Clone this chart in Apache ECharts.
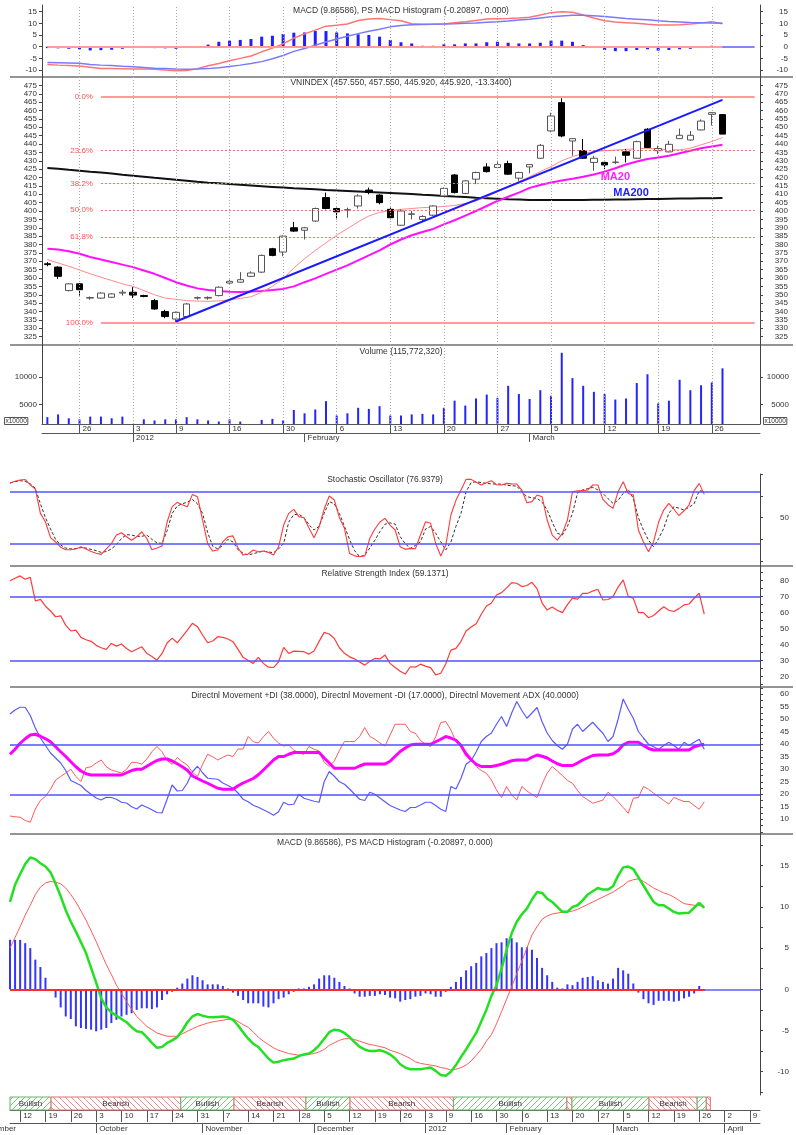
<!DOCTYPE html>
<html>
<head>
<meta charset="utf-8">
<script src="https://cdn.jsdelivr.net/npm/echarts@6/dist/echarts.min.js"></script>
<style>
  html, body { margin: 0; padding: 0; background: #fff; }
  #chart { width: 796px; height: 1135px; }
</style>
</head>
<body>
<div id="chart"></div>
<script>
// ---- calendar ----
const holidays = ['2012-01-02', '2012-01-23', '2012-01-24', '2012-01-25', '2012-01-26', '2012-01-27'];
const monthNames = ['2012', 'February', 'March', 'April', 'May', 'June', 'July', 'August', 'September', 'October', 'November', 'December'];

function tradingDays(from, to) {
  const out = [];
  const d = new Date(from + 'T00:00:00Z');
  const end = new Date(to + 'T00:00:00Z');
  while (d <= end) {
    const s = d.toISOString().slice(0, 10);
    const w = d.getUTCDay();
    if (w !== 0 && w !== 6 && holidays.indexOf(s) < 0) out.push(s);
    d.setUTCDate(d.getUTCDate() + 1);
  }
  return out;
}
// first trading day of each week -> day number
function weekLabels(dates) {
  return dates.map((s, i) => {
    const d = new Date(s + 'T00:00:00Z');
    if (i === 0) return d.getUTCDay() === 1 ? String(d.getUTCDate()) : '';
    const p = new Date(dates[i - 1] + 'T00:00:00Z');
    const newWeek = d.getUTCDay() <= p.getUTCDay() || (d - p) >= 7 * 864e5;
    return newWeek ? String(d.getUTCDate()) : '';
  });
}
// first trading day of each month -> month name
function monthLabels(dates) {
  return dates.map((s, i) => {
    if (i === 0) return '';
    return s.slice(5, 7) !== dates[i - 1].slice(5, 7) ? monthNames[+s.slice(5, 7) - 1] : '';
  });
}

const topDates = tradingDays('2011-12-21', '2012-03-30');
const bottomDates = tradingDays('2011-09-08', '2012-04-11');
const topDay = weekLabels(topDates);
const topMonth = monthLabels(topDates);
const bottomDay = weekLabels(bottomDates);
const bottomMonth = monthLabels(bottomDates);
const topWeekSlots = topDay.map((d, i) => (d ? i : -1)).filter(i => i >= 0);

// ---- top chart data (21 Dec 2011 - 27 Mar 2012) ----
// [open, close, low, high]
const vnindex = [
  [368.5, 368, 367, 369.5], [366.5, 361, 359.5, 367], [352.5, 356.5, 352, 357], [356.5, 353, 349.5, 357],
  [348, 348.3, 347, 349], [348, 351, 347.5, 351.5], [348.5, 350.5, 348, 351], [351, 351.5, 349.5, 353],
  [351.5, 349.8, 348, 354.5], [349.5, 349, 348.5, 350], [346.5, 341.5, 341, 347.5], [340, 337, 336, 341],
  [335.5, 339.5, 333.5, 340], [337, 344.5, 336, 345], [348, 348.3, 347, 349], [348, 348.4, 347, 349],
  [349.5, 354.5, 349, 355], [357, 358, 356.5, 359], [357.5, 359, 357, 363.5], [361, 363, 360.5, 364],
  [363.5, 373.5, 363, 374], [377.5, 373.5, 373, 378], [375.5, 385, 373, 385.5], [390, 388, 387.5, 393.5],
  [388.5, 390, 383, 390.5], [394, 401.5, 393.5, 402], [408, 401.5, 401, 411], [401.5, 399.5, 395, 402],
  [400.5, 400.8, 396, 402], [403, 409, 401.5, 410], [412.5, 411, 410, 414], [409.5, 405, 404, 410],
  [401, 396, 395, 402], [391.5, 400, 391, 401], [398, 398.3, 395, 400], [395, 396.7, 394, 397.5],
  [397.5, 403, 397, 403.5], [409, 413.5, 408.5, 414], [421.5, 411, 410.5, 422], [410.5, 418, 410, 418.5],
  [419, 423, 416, 423.5], [426.3, 423.5, 423, 428.5], [426, 427.7, 425.5, 430], [428.3, 422, 421.5, 430],
  [419.6, 423, 418, 423.5], [426.3, 427.7, 422.5, 428], [431.5, 439.2, 431, 440], [447.8, 456.7, 447, 458.7],
  [464.7, 444.8, 444, 467.3], [441.8, 443.2, 433, 443.5], [436, 431.5, 431, 443], [429, 431.5, 424, 433],
  [429, 427.5, 425, 430], [429, 429.2, 428, 432.5], [435.3, 433.3, 429, 437], [431.5, 441.4, 431, 442],
  [448.8, 437.9, 437.5, 449.5], [436, 437.3, 434, 439], [435.3, 439.8, 435, 441.8], [443.2, 445.2, 443, 449.2],
  [442.4, 445.2, 442, 447.8], [448.4, 453.7, 448, 454.7], [457.7, 458.7, 451, 459], [457.55, 445.92, 445.92, 457.55]
];
const ma10 = [
  371, 369, 367, 364.8, 362.5, 360.5, 358.5, 356.5, 355, 352.5,
  350, 348, 347.3, 346.5, 346.2, 346.1, 346.3, 347, 347.8, 348.8,
  351.5, 355, 359.5, 366, 371.5, 376.5, 381, 385.5, 389.5, 393.5,
  397, 399.2, 400.2, 401, 401.5, 402, 402.3, 402.7, 403.3, 404.5,
  406, 408.5, 411.5, 414.5, 417.5, 420.5, 423.5, 426.5, 430, 432.5,
  434.3, 435.5, 436, 436.4, 436.8, 437.2, 437.5, 437, 436.6, 436.5,
  437.5, 439.5, 441.5, 443.8
];
const ma20 = [
  377.5, 377, 376, 374.5, 372.5, 371, 369.5, 368, 366.5, 364.5,
  362.5, 360, 357.5, 355.5, 353.8, 352.8, 352.2, 351.8, 351.7, 351.9,
  352.3, 352.8, 353.5, 355, 357.5, 359.8, 362.5, 365, 367.5, 370.5,
  373.5, 376.5, 380, 383, 385.5, 387.5, 389.3, 392, 394.5, 397.2,
  400, 403, 406, 408.5, 411, 413.8, 415.5, 417, 418.2, 419.3,
  420.5, 421.8, 423.5, 425.5, 427.8, 429.5, 431, 432, 433, 434.5,
  436, 437.5, 438.5, 439.5
];
const ma200 = [
  425.7, 425.2, 424.6, 424.1, 423.5, 423.0, 422.4, 421.7, 421.1, 420.5,
  419.8, 419.2, 418.6, 418.0, 417.4, 416.9, 416.5, 416.1, 415.6, 415.2,
  414.8, 414.4, 414.0, 413.6, 413.3, 413.0, 412.6, 412.3, 412.0, 411.7,
  411.3, 411.0, 410.7, 410.4, 410.1, 409.7, 409.4, 409.0, 408.6, 408.3,
  407.9, 407.6, 407.3, 407.0, 406.8, 406.6, 406.5, 406.5, 406.5, 406.5,
  406.6, 406.7, 406.7, 406.8, 406.9, 407.0, 407.1, 407.2, 407.3, 407.4,
  407.5, 407.6, 407.6, 407.7
];
const trendLine = [[12, 334], [63, 466.3]];
const fibLevels = [468, 436.1, 416.4, 400.5, 384.6, 333];
const fibNames = ['0.0%', '23.6%', '38.2%', '50.0%', '61.8%', '100.0%'];
const volume = [
  2700, 3200, 2500, 2300, 2800, 2800, 2500, 2800, 1200, 2300,
  2100, 2300, 2300, 2700, 2300, 2100, 1900, 2300, 1900, 1200,
  2200, 2400, 2100, 4000, 3400, 4100, 5600, 3000, 3400, 4400,
  4200, 4700, 3000, 3000, 3200, 3300, 3200, 4400, 5700, 4800,
  6100, 6800, 6200, 8400, 6900, 6000, 7600, 6600, 14400, 9800,
  8400, 7300, 6900, 5900, 6100, 8900, 10500, 5200, 5700, 9500,
  7600, 8500, 9000, 11577
];
const macdTop = [
  -7.6, -7.9, -8.1, -8.3, -8.8, -9.3, -9.4, -9.5, -9.6, -9.6,
  -9.7, -10.0, -10.3, -10.2, -9.4, -8.2, -7.2, -6.0, -5.0, -4.0,
  -2.2, -0.6, 1.2, 3.7, 5.5, 7.1, 8.8, 9.2, 9.7, 11.2,
  11.9, 12.1, 11.6, 11.1, 9.8, 9.6, 9.6, 9.7, 10.3, 10.7,
  11.2, 11.9, 12.0, 12.1, 12.3, 12.6, 13.6, 14.6, 15.0, 14.8,
  13.6, 12.3, 11.1, 10.6, 10.3, 10.0, 9.6, 9.3, 9.3, 9.4,
  9.7, 10.2, 10.7, 9.87
];
const signalTop = [
  -6.8, -6.9, -7.0, -7.1, -7.6, -7.9, -8.1, -8.4, -8.6, -8.9,
  -9.2, -9.4, -9.6, -9.7, -9.6, -9.4, -9.0, -8.5, -7.9, -7.2,
  -6.4, -5.2, -3.8, -2.0, -0.8, 0.6, 2.0, 3.3, 4.5, 5.6,
  6.6, 7.5, 8.5, 9.1, 9.4, 9.5, 9.6, 9.7, 9.8, 10.0,
  10.2, 10.5, 10.7, 11.0, 11.4, 11.8, 12.3, 12.8, 13.2, 13.5,
  13.5, 13.3, 12.9, 12.5, 12.1, 11.8, 11.5, 11.1, 10.8, 10.6,
  10.4, 10.3, 10.2, 10.08
];
const histTop = [
  -0.6, -0.7, -0.9, -1.1, -1.6, -1.5, -1.3, -0.9, -0.6, -0.5,
  -0.6, -0.7, -0.9, -0.3, 0.3, 0.9, 2.1, 2.6, 2.9, 3.3,
  4.3, 4.7, 5.4, 6.0, 6.1, 6.7, 6.7, 6.1, 5.7, 5.3,
  5.0, 4.3, 2.9, 1.9, 1.4, 0.4, 0.4, 1.0, 1.0, 1.4,
  1.4, 1.9, 2.1, 1.7, 1.4, 1.4, 1.7, 2.6, 2.6, 2.1,
  0.7, -0.3, -1.4, -1.9, -1.9, -1.4, -1.1, -1.7, -1.4, -1.1,
  -0.9, -0.4, 0.4, -0.2
];

// ---- bottom chart data (8 Sep 2011 - 27 Mar 2012) ----
const stochK = [
  90, 92, 93.5, 94, 88, 83, 55, 45, 27, 22,
  16, 13, 13, 14, 16.5, 14, 11, 9, 7.7, 14,
  20, 30, 32.7, 28, 24, 28, 33.8, 26, 13, 15,
  17.3, 45, 62.7, 67.7, 65, 62.7, 76.9, 74.2, 47.3, 20,
  11.5, 12.7, 22, 28, 29, 15, 6.9, 8.1, 12.7, 10.8,
  11.5, 10, 6.9, 16.5, 41.5, 55, 59.6, 51.2, 50, 38,
  26.9, 39.6, 60, 75, 70.4, 50, 37.7, 8.8, 6, 5,
  5.8, 26.2, 37, 45, 49.2, 41.5, 35.8, 16.5, 13.5, 14.6,
  14.2, 30, 45.4, 43.5, 20.4, 5.8, 18.5, 53.1, 70, 81.9,
  94.2, 94.2, 91, 87.7, 90.4, 92.7, 88, 87.7, 89.6, 89,
  88.8, 81.9, 67.3, 68.5, 76.2, 74.2, 47.3, 30, 24.2, 31.9,
  47.3, 80, 81, 81.2, 81.9, 87.7, 87.7, 71.2, 65, 60.8,
  80, 91.5, 78, 76.2, 35.8, 22, 10.8, 22.3, 45, 58.8,
  66.5, 60, 52.3, 58, 64.6, 81.2, 89.6, 76.9
];
const stochD = [
  90, 91.5, 92.7, 92, 89, 84, 66, 50, 37, 25,
  18.5, 15, 14, 14.5, 15.5, 15, 13.5, 12, 10, 11,
  14, 19, 26, 30.5, 30, 28.5, 28.5, 30, 25, 21,
  20.4, 35, 55, 63.5, 66, 68, 71, 66, 55, 33,
  17, 14, 18, 25, 22, 13, 9, 7, 8.5, 10,
  11.5, 10.5, 9.6, 14, 20.4, 45, 53.5, 54, 50, 42,
  35.8, 40, 55, 68.5, 66, 55, 40, 25, 12, 5,
  6.9, 15, 24, 34, 42.5, 44, 42.7, 28, 20, 14.6,
  18, 22.3, 37, 40, 32, 22.3, 12.7, 22, 40, 55,
  80, 90.5, 91.5, 90.5, 89.6, 89, 88.8, 88.8, 87.5, 86.8,
  86.5, 80, 74.2, 73, 72.3, 68, 58.8, 45, 32, 30,
  40, 55, 78.8, 82, 83.5, 85, 82, 78.1, 72, 66.5,
  70, 78, 82.7, 72.3, 50, 35.8, 24, 16.5, 26, 37.7,
  55, 62.7, 61, 58.8, 62, 66, 81.2, 80
];
const rsi = [
  80, 81.5, 83, 80.9, 82.1, 67.3, 68.3, 64, 61, 57.4,
  58, 52, 48.5, 49, 44.5, 43, 42, 39.5, 38, 37,
  40.7, 39, 40.3, 37.5, 35.5, 37, 38.6, 34.5, 32.5, 30.2,
  34.4, 41, 44, 41.1, 45, 49, 53.3, 51.2, 46, 41.1,
  42.2, 44.9, 44.5, 43.5, 41.8, 37, 32, 30, 28.2, 31.9,
  28.2, 25.8, 25.6, 29.2, 38.2, 34.4, 35.9, 35.7, 35.5, 34,
  36, 42, 47.6, 46.6, 43.8, 38, 34.5, 32.3, 31, 29,
  27.1, 29.5, 31.3, 31, 33.4, 28.2, 25.6, 23.3, 21.5, 26.1,
  25.8, 27.7, 26.5, 25.5, 21, 22, 28, 36.5, 37.6, 42,
  48.5, 51, 53, 59, 64, 66, 71, 72.5, 75.5, 78.8,
  78.4, 76.3, 77, 79, 75, 66, 61.6, 63.5, 61.5, 60,
  65, 69, 68.5, 72, 72.1, 73.5, 74.6, 67.9, 68.2, 70,
  76, 80.5, 70.2, 69, 60, 60, 56.8, 58.2, 61, 63.7,
  61.5, 60.7, 62.5, 64.8, 65.4, 69, 72.1, 59.1
];
const plusDI = [
  52.1, 53.7, 54.8, 54.8, 51.5, 46.5, 42.5, 39.5, 36.5, 34.5,
  32.5, 29.5, 25.5, 24.5, 23.5, 21.5, 20, 18.5, 17.7, 18.8,
  18.7, 18, 16.8, 16.5, 15, 14.1, 15.7, 14.8, 13.8, 12.7,
  12.5, 18, 23.7, 21.3, 21.5, 24.5, 29, 31.2, 28.6, 26.4,
  26.2, 26, 24.5, 23.5, 22.4, 20.5, 18, 17, 15.6, 14.8,
  13.8, 12.8, 11.6, 13, 16.8, 15.8, 16, 20, 18.4, 17.8,
  17.2, 16.8, 25, 29.1, 27.2, 25, 24, 22.1, 20, 18,
  17.5, 20.8, 20, 18.5, 17, 15.5, 14.6, 13.7, 13.1, 14.7,
  14.7, 15.7, 16.8, 16.8, 15.5, 14, 13.1, 23.1, 22.1, 26.4,
  32, 33.5, 37, 41.1, 43.1, 44.5, 48, 51.1, 47.1, 52.5,
  57.1, 53.5, 50.4, 52.5, 54.7, 49, 44.5, 41.5, 39.5, 38,
  40, 46.1, 48, 45.1, 47, 48.8, 46.5, 44.4, 41.1, 43.1,
  50, 58.1, 54, 50.4, 45.1, 42.5, 40, 39, 38, 39.5,
  40.8, 39.5, 38, 40.8, 39.5, 40.8, 42, 38
];
const minusDI = [
  11.3, 11, 10.8, 9.5, 8.8, 14.1, 17.5, 19.1, 22, 25.7,
  27.1, 28.5, 30, 27.1, 25.1, 30.6, 31, 32.5, 33.7, 31,
  29.7, 29.1, 28.5, 30, 32.8, 32.7, 32, 34.1, 37, 39.1,
  37, 33.5, 32, 34.7, 33, 31.7, 28.8, 27.1, 32, 36,
  35, 33.7, 34.8, 35.7, 35.1, 38.1, 38.1, 43.1, 41, 40.5,
  43, 45.1, 42.4, 40.5, 39.3, 39.7, 37.7, 36.5, 36, 39.1,
  38, 37.3, 32.8, 31.1, 33.3, 37.5, 41.1, 41.1, 41.1, 43.1,
  46.7, 43.1, 42, 40.5, 39.3, 43.7, 48, 48, 48, 45.1,
  44.4, 41.5, 40, 39.1, 43, 48.7, 49.1, 45.7, 41.1, 39.7,
  37, 34.4, 31.1, 29.5, 28.4, 25.7, 21.7, 18.7, 23.1, 19.7,
  17.7, 23.1, 21.3, 20, 18.7, 24, 28.4, 31.1, 29.3, 27.5,
  25.5, 24.4, 21.5, 19.1, 17.8, 16.4, 17, 17.7, 20.8, 19.1,
  17, 14.7, 12.4, 18.4, 18.7, 23.1, 22, 20.4, 19, 17.5,
  16.1, 18.7, 17.9, 17.1, 17.1, 15.5, 14, 17
];
const adx = [
  36, 38, 40.4, 42.2, 43.7, 44, 43.2, 42.2, 41, 39,
  37, 35.1, 33, 31, 29.3, 28.2, 27.7, 27.7, 27.7, 27.7,
  27.7, 27.7, 27.7, 28.6, 29.5, 30, 30, 31.2, 32.4, 33.5,
  34.1, 34.1, 33.3, 32.2, 31, 29.6, 27.3, 26.3, 25.3, 24.4,
  23.4, 22.4, 22, 22, 22, 23.4, 24.5, 25.4, 26.3, 27.8,
  29.7, 31.7, 33.7, 35.1, 35.1, 36, 36.7, 36.7, 36.7, 36.7,
  36.7, 36.7, 34.5, 32.5, 30.4, 30.4, 30.4, 30.4, 30.4, 31.3,
  32.1, 32.1, 32.1, 32.1, 32.1, 33.2, 35.2, 37.1, 38.5, 39.7,
  40, 40, 40, 40, 41, 42, 43.1, 42.5, 41.6, 39.5,
  36, 33.8, 32, 31.1, 31.1, 31.1, 31.5, 32, 32.7, 33.4,
  33.7, 33.7, 33.7, 34.8, 35.7, 35.2, 34.5, 33.3, 32.2, 31.5,
  31.5, 31.5, 32.5, 33.7, 34.6, 35.5, 35.7, 35.7, 35.7, 36.2,
  37.5, 39.8, 40.8, 40.8, 40.8, 39.5, 38.3, 37.7, 37.7, 37.7,
  37.7, 37.7, 37.7, 37.7, 37.7, 39, 39.6, 40
];
const macd = [
  10.6, 12.7, 14.0, 15.2, 16.0, 15.8, 15.3, 14.9, 14.2, 12.8,
  11.3, 9.6, 8.2, 7.0, 5.7, 4.4, 2.6, 0.8, -1.1, -2.2,
  -2.8, -3.2, -3.6, -4.0, -4.6, -5.1, -5.2, -5.8, -6.5, -7.1,
  -7.0, -6.5, -6.2, -5.8, -5.0, -4.0, -3.3, -3.0, -3.2, -3.35,
  -3.4, -3.35, -3.3, -3.4, -3.7, -4.4, -5.2, -6.0, -6.6, -7.0,
  -7.7, -8.4, -8.9, -8.8, -8.6, -8.5, -8.4, -8.1, -7.9, -7.8,
  -7.4, -6.8, -6.0, -5.2, -4.9, -5.0, -5.3, -5.8, -6.4, -7.0,
  -7.3, -7.5, -7.5, -7.4, -7.6, -7.9, -8.4, -9.1, -9.5, -9.7,
  -9.7, -9.7, -9.6, -9.5, -9.9, -10.4, -10.5, -10.0, -9.2, -8.2,
  -7.3, -6.3, -5.3, -3.9, -2.5, -0.8, 0.5, 2.5, 4.8, 6.8,
  8.2, 9.1, 9.8, 10.9, 11.8, 11.7, 11.0, 10.6, 10.0, 9.4,
  9.4, 10.0, 10.2, 10.8, 11.5, 11.9, 12.3, 12.1, 12.1, 12.5,
  13.8, 14.8, 14.9, 14.6, 13.6, 12.6, 11.6, 10.6, 10.2, 10.2,
  9.8, 9.4, 9.2, 9.25, 9.3, 9.9, 10.5, 9.87
];
const signal = [
  5.0, 6.3, 7.6, 9.0, 10.2, 11.5, 12.4, 12.9, 13.1, 13.0,
  12.8, 12.3, 11.5, 10.6, 9.5, 8.4, 7.1, 5.8, 4.4, 3.0,
  1.8, 0.5, -0.5, -1.5, -2.4, -3.3, -3.9, -4.5, -4.9, -5.3,
  -5.5, -5.7, -5.7, -5.7, -5.4, -5.1, -4.8, -4.5, -4.3, -4.1,
  -3.95, -3.85, -3.75, -3.65, -3.6, -3.9, -4.3, -4.6, -5.2, -5.8,
  -6.3, -6.7, -7.1, -7.4, -7.6, -7.8, -7.9, -8.0, -8.0, -7.9,
  -7.8, -7.6, -7.3, -6.8, -6.5, -6.2, -6.0, -6.0, -6.1, -6.3,
  -6.5, -6.7, -6.8, -6.95, -7.1, -7.4, -7.6, -7.8, -8.1, -8.4,
  -8.8, -9.0, -9.1, -9.2, -9.3, -9.5, -9.6, -9.8, -9.7, -9.5,
  -9.2, -8.7, -8.0, -7.3, -6.3, -5.5, -4.2, -2.7, -1.2, 0.3,
  1.9, 3.4, 5.0, 6.6, 7.6, 8.5, 8.9, 9.15, 9.25, 9.35,
  9.4, 9.5, 9.7, 10.0, 10.3, 10.6, 10.9, 11.2, 11.5, 11.8,
  12.2, 12.6, 13.1, 13.3, 13.4, 13.1, 12.7, 12.3, 12.0, 11.7,
  11.5, 11.2, 10.8, 10.4, 10.3, 10.2, 10.15, 10.08
];
const hist = [
  6.0, 6.0, 6.0, 5.6, 5.0, 3.6, 2.7, 1.4, -0.2, -1.0,
  -2.2, -3.3, -3.6, -4.5, -4.7, -4.8, -4.9, -5.1, -4.9, -4.7,
  -4.1, -3.7, -3.3, -3.1, -2.9, -2.5, -2.3, -2.3, -2.4, -2.2,
  -1.3, -0.6, -0.3, 0.2, 0.7, 1.3, 1.7, 1.5, 1.1, 0.6,
  0.6, 0.6, 0.4, 0.1, -0.4, -0.8, -1.3, -1.7, -1.7, -1.7,
  -2.1, -2.2, -1.7, -1.2, -1.0, -0.6, -0.3, 0.1, 0.1, 0.3,
  0.6, 1.3, 1.7, 1.7, 1.4, 0.9, 0.4, 0.1, -0.5, -0.9,
  -0.9, -0.8, -0.8, -0.6, -0.7, -1.0, -1.1, -1.5, -1.3, -1.2,
  -0.9, -0.8, -0.5, -0.6, -0.9, -0.9, -0.3, 0.3, 0.9, 1.5,
  2.3, 2.8, 3.2, 4.0, 4.4, 5.0, 5.6, 5.7, 6.2, 6.2,
  5.7, 5.1, 5.1, 4.8, 3.8, 2.6, 1.7, 0.9, 0.2, 0.1,
  0.6, 0.5, 0.9, 1.4, 1.5, 1.6, 1.1, 0.9, 0.7, 1.3,
  2.6, 2.3, 1.9, 0.7, -0.4, -1.2, -1.7, -1.9, -1.4, -1.4,
  -1.4, -1.5, -1.4, -1.1, -0.9, -0.5, 0.4, -0.2
];
// [from slot, to slot, state]
const bandSegments = [
  [0, 8.1, 'Bullish'], [8.1, 33.7, 'Bearish'], [33.7, 44.2, 'Bullish'], [44.2, 58.4, 'Bearish'],
  [58.4, 67.1, 'Bullish'], [67.1, 87.5, 'Bearish'], [87.5, 109.9, 'Bullish'], [109.9, 110.9, 'Bearish'],
  [110.9, 126.1, 'Bullish'], [126.1, 135.6, 'Bearish'], [135.6, 137.4, 'Bullish'], [137.4, 138.2, 'Bearish']
];

// axis tick values
const macdTopLabels = [-10, -5, 0, 5, 10, 15];
const volumeLabels = [5000, 10000];
const stochLabels = [50];
const stochTicks = [0, 25, 50, 75, 100];
const rsiLabels = [20, 30, 40, 50, 60, 70, 80];
const rsiTicks = [15, 20, 25, 30, 35, 40, 45, 50, 55, 60, 65, 70, 75, 80, 85];
const dmiLabels = [10, 15, 20, 25, 30, 35, 40, 45, 50, 55, 60];
const dmiTicks = [5, 7.5, 10, 12.5, 15, 17.5, 20, 22.5, 25, 27.5, 30, 32.5, 35, 37.5, 40, 42.5, 45, 47.5, 50, 52.5, 55, 57.5, 60, 62.5];
const macdLabels = [-10, -5, 0, 5, 10, 15];
const macdTicks = [-12.5, -10, -7.5, -5, -2.5, 0, 2.5, 5, 7.5, 10, 12.5, 15, 17.5];

// ---- styling helpers ----
const font = '"Liberation Sans", Arial, sans-serif';
const ink = '#333';

function hatch(color, forward) {
  const c = document.createElement('canvas');
  c.width = 6; c.height = 6;
  const g = c.getContext('2d');
  g.fillStyle = '#fff';
  g.fillRect(0, 0, 6, 6);
  g.strokeStyle = color;
  g.lineWidth = 1;
  g.beginPath();
  if (forward) {
    g.moveTo(0, 6); g.lineTo(6, 0);
    g.moveTo(-1, 1); g.lineTo(1, -1);
    g.moveTo(5, 7); g.lineTo(7, 5);
  } else {
    g.moveTo(0, 0); g.lineTo(6, 6);
    g.moveTo(-1, 5); g.lineTo(1, 7);
    g.moveTo(5, -1); g.lineTo(7, 1);
  }
  g.stroke();
  return { image: c, repeat: 'repeat' };
}
const bullFill = hatch('#7cc47c', true);
const bearFill = hatch('#f08a8a', false);

// dotted weekly grid lines, drawn at candle centres
const weekGrid = {
  silent: true, symbol: 'none', animation: false, label: { show: false },
  lineStyle: { color: '#a8a8a8', type: [1, 2], width: 1 },
  data: topWeekSlots.map(i => ({ xAxis: i }))
};

function topX(gridIndex) {
  return {
    type: 'category', gridIndex, data: topDates, boundaryGap: true,
    axisLine: { show: false }, axisTick: { show: false }, axisLabel: { show: false }, splitLine: { show: false }
  };
}
function bottomX(gridIndex) {
  return { type: 'category', gridIndex, data: bottomDates, boundaryGap: false, show: false };
}
function yAxis(gridIndex, position, min, max, labels, ticks, margin, extra) {
  return Object.assign({
    type: 'value', gridIndex, position, min, max,
    axisLine: { show: true, lineStyle: { color: '#444', width: 1 } },
    axisTick: { show: true, length: 3, customValues: ticks, lineStyle: { color: '#444' } },
    axisLabel: {
      customValues: labels, fontSize: 8, color: ink, fontFamily: font, margin,
      align: 'right', formatter: (v) => String(v)
    },
    splitLine: { show: false }
  }, extra || {});
}
function line(x, y, data, color, width, extra) {
  return Object.assign({
    type: 'line', xAxisIndex: x, yAxisIndex: y, data, symbol: 'none',
    lineStyle: { color, width }, itemStyle: { color }, silent: true, z: 3
  }, extra || {});
}
function levels(values, color) {
  return {
    silent: true, symbol: 'none', animation: false, label: { show: false },
    lineStyle: { color, width: 1.5, type: 'solid' },
    data: values.map(v => ({ yAxis: v }))
  };
}
function zeroLine(lastData, lastSlot, dataColor) {
  return {
    silent: true, symbol: 'none', animation: false, label: { show: false },
    data: [
      [{ coord: [0, 0], lineStyle: { color: dataColor, width: 2, type: 'solid' } }, { coord: [lastData, 0] }],
      [{ coord: [lastData, 0], lineStyle: { color: '#5b5bff', width: 1.5, type: 'solid' } }, { coord: [lastSlot, 0] }]
    ]
  };
}

const chart = echarts.init(document.getElementById('chart'), null, { renderer: 'canvas' });

const titleStyle = { fontSize: 8.5, fontWeight: 'normal', color: ink, fontFamily: font };
const titles = [
  ['MACD (9.86586), PS MACD Histogram (-0.20897, 0.000)', 401, 6],
  ['VNINDEX (457.550, 457.550, 445.920, 445.920, -13.3400)', 401, 78],
  ['Volume (115,772,320)', 401, 347],
  ['Stochastic Oscillator (76.9379)', 385, 475],
  ['Relative Strength Index (59.1371)', 385, 569],
  ['Directnl Movement +DI (38.0000), Directnl Movement -DI (17.0000), Directnl Movement ADX (40.0000)', 385, 691],
  ['MACD (9.86586), PS MACD Histogram (-0.20897, 0.000)', 385, 838]
].map(t => ({ text: t[0], left: t[1], top: t[2], textAlign: 'center', padding: 0, textStyle: titleStyle }));

const separators = [77, 345, 566, 687, 834].map(y => ({
  type: 'line', silent: true, shape: { x1: 10, y1: y, x2: 793, y2: y },
  style: { stroke: '#707070', lineWidth: 1.5 }
}));

const option = {
  animation: false,
  backgroundColor: '#fff',
  title: titles,
  graphic: separators.concat([
    { type: 'text', left: 4, top: 417, silent: true,
      style: { text: 'x10000', fontSize: 6.5, fill: ink, fontFamily: font, borderColor: '#555', borderWidth: 1, padding: [0, 1] } },
    { type: 'text', left: 763, top: 417, silent: true,
      style: { text: 'x10000', fontSize: 6.5, fill: ink, fontFamily: font, borderColor: '#555', borderWidth: 1, padding: [0, 1] } },
    { type: 'text', x: 16, y: 1125, silent: true,
      style: { text: 'September', align: 'right', fontSize: 8, fill: ink, fontFamily: font } }
  ]),
  grid: [
    { left: 42, width: 718, top: 5, height: 72 },
    { left: 42, width: 718, top: 77, height: 268 },
    { left: 42, width: 718, top: 345, height: 79 },
    { left: 10, width: 750, top: 474, height: 92 },
    { left: 10, width: 750, top: 566, height: 121 },
    { left: 10, width: 750, top: 687, height: 147 },
    { left: 10, width: 750, top: 834, height: 261 },
    { left: 10, width: 750, top: 1097, height: 13 }
  ],
  xAxis: [
    topX(0),
    topX(1),
    {
      type: 'category', gridIndex: 2, data: topDates, boundaryGap: true, position: 'bottom',
      axisLine: { show: true, lineStyle: { color: '#555' } },
      axisTick: { show: true, alignWithLabel: true, length: 9, interval: (i) => topDay[i] !== '', lineStyle: { color: '#555' } },
      axisLabel: { interval: (i) => topDay[i] !== '', formatter: (v, i) => topDay[i], align: 'left', margin: 1,
        padding: [0, 0, 0, 3], fontSize: 8, color: ink, fontFamily: font },
      splitLine: { show: false }
    },
    {
      type: 'category', gridIndex: 2, data: topDates, boundaryGap: true, position: 'bottom', offset: 9,
      axisLine: { show: true, lineStyle: { color: '#555' } },
      axisTick: { show: true, alignWithLabel: true, length: 9, interval: (i) => topMonth[i] !== '', lineStyle: { color: '#555' } },
      axisLabel: { interval: (i) => topMonth[i] !== '', formatter: (v, i) => topMonth[i], align: 'left', margin: 1,
        padding: [0, 0, 0, 3], fontSize: 8, color: ink, fontFamily: font },
      splitLine: { show: false }
    },
    bottomX(3), bottomX(4), bottomX(5), bottomX(6),
    { type: 'value', gridIndex: 7, min: 0, max: bottomDates.length - 1, show: false },
    {
      type: 'category', gridIndex: 7, data: bottomDates, boundaryGap: false, position: 'bottom',
      axisLine: { show: true, lineStyle: { color: '#555' } },
      axisTick: { show: true, length: 12, interval: (i) => bottomDay[i] !== '', lineStyle: { color: '#555' } },
      axisLabel: { interval: (i) => bottomDay[i] !== '', formatter: (v, i) => bottomDay[i], align: 'left', margin: 2,
        padding: [0, 0, 0, 3], fontSize: 8, color: ink, fontFamily: font },
      splitLine: { show: false }
    },
    {
      type: 'category', gridIndex: 7, data: bottomDates, boundaryGap: false, position: 'bottom', offset: 13,
      axisLine: { show: true, lineStyle: { color: '#555' } },
      axisTick: { show: true, length: 10, interval: (i) => bottomMonth[i] !== '', lineStyle: { color: '#555' } },
      axisLabel: { interval: (i) => bottomMonth[i] !== '', formatter: (v, i) => bottomMonth[i], align: 'left', margin: 2,
        padding: [0, 0, 0, 3], fontSize: 8, color: ink, fontFamily: font },
      splitLine: { show: false }
    }
  ],
  yAxis: [
    yAxis(0, 'left', -12.99, 17.87, macdTopLabels, macdTopLabels, 5),
    yAxis(0, 'right', -12.99, 17.87, macdTopLabels, macdTopLabels, 28),
    yAxis(1, 'left', 320, 480, null, null, 5, {
      interval: 5,
      axisTick: { show: true, length: 3, lineStyle: { color: '#444' } },
      axisLabel: { fontSize: 8, color: ink, fontFamily: font, margin: 5, align: 'right', showMinLabel: false, showMaxLabel: false }
    }),
    yAxis(1, 'right', 320, 480, null, null, 28, {
      interval: 5,
      axisTick: { show: true, length: 3, lineStyle: { color: '#444' } },
      axisLabel: { fontSize: 8, color: ink, fontFamily: font, margin: 28, align: 'right', showMinLabel: false, showMaxLabel: false }
    }),
    yAxis(2, 'left', 1455, 15818, volumeLabels, volumeLabels, 5),
    yAxis(2, 'right', 1455, 15818, volumeLabels, volumeLabels, 29),
    yAxis(3, 'right', -5.7, 100.4, stochLabels, stochTicks, 29),
    yAxis(4, 'right', 13.4, 89.2, rsiLabels, rsiTicks, 29),
    yAxis(5, 'right', 4.1, 62.9, dmiLabels, dmiTicks, 29),
    yAxis(6, 'right', -12.83, 18.85, macdLabels, macdTicks, 29),
    { type: 'value', gridIndex: 7, min: 0, max: 1, show: false }
  ],
  series: [
    // top MACD panel
    { type: 'bar', xAxisIndex: 0, yAxisIndex: 0, data: histTop, barWidth: 3, itemStyle: { color: '#1f1fff' }, silent: true,
      markLine: zeroLine(63, 66, '#ff9c9c') },
    line(0, 0, macdTop, '#ff7474', 1.5, { markLine: weekGrid }),
    line(0, 0, signalTop, '#7a7aff', 1.5),

    // price panel
    line(1, 2, ma200, '#111', 2, { markLine: weekGrid }),
    line(1, 2, ma20, '#ff10ff', 2, {
      markPoint: {
        silent: true, symbolSize: 0, animation: false,
        data: [
          { coord: [53, 420.2], label: { show: true, formatter: 'MA20', color: '#ff20ff', fontWeight: 'bold', fontSize: 11, fontFamily: font } },
          { coord: [54, 410.8], label: { show: true, formatter: 'MA200', color: '#2020ff', fontWeight: 'bold', fontSize: 11, fontFamily: font, offset: [5, 0] } }
        ]
      }
    }),
    line(1, 2, ma10, '#ff8a8a', 1),
    {
      type: 'candlestick', xAxisIndex: 1, yAxisIndex: 2, data: vnindex, barWidth: 7, silent: true, z: 4,
      itemStyle: { color: '#fff', color0: '#000', borderColor: '#555', borderColor0: '#000', borderWidth: 1 }
    },
    line(1, 2, trendLine, '#1a1aff', 2, {
      z: 5,
      markLine: {
        silent: true, symbol: 'none', animation: false,
        data: fibLevels.map((v, i) => {
          const solid = i === 0 || i === fibLevels.length - 1;
          return [
            { coord: [5, v], name: fibNames[i],
              lineStyle: solid ? { color: '#ff9a9a', width: 2, type: 'solid' } : { color: '#ff6a6a', width: 1, type: [2, 2] },
              label: { show: true, position: 'start', formatter: '{b}', color: '#ff5050', fontSize: 8, fontFamily: font, distance: 8 } },
            { coord: [66, v] }
          ];
        })
      }
    }),

    // volume panel
    { type: 'bar', xAxisIndex: 2, yAxisIndex: 4, data: volume, barWidth: 2, itemStyle: { color: '#2424ff' }, silent: true,
      markLine: weekGrid },

    // stochastic
    line(4, 6, stochD, '#333', 1, { lineStyle: { color: '#333', width: 1, type: [3, 2] },
      markLine: levels([80, 20], '#5252ff') }),
    line(4, 6, stochK, '#ff3a3a', 1.1),

    // RSI
    line(5, 7, rsi, '#ff3a3a', 1.2, { markLine: levels([70, 30], '#5252ff') }),

    // DMI
    line(6, 8, minusDI, '#ff5a5a', 1, { markLine: levels([40, 20], '#5252ff') }),
    line(6, 8, plusDI, '#5a5aff', 1.2),
    line(6, 8, adx, '#ff00ff', 3),

    // MACD
    { type: 'bar', xAxisIndex: 7, yAxisIndex: 9, data: hist, barWidth: 2, itemStyle: { color: '#3434ff' }, silent: true },
    line(7, 9, signal, '#ff5a5a', 1, { markLine: zeroLine(137, 148, '#ff2a2a') }),
    line(7, 9, macd, '#22e022', 2.5),

    // bullish / bearish band
    {
      type: 'line', xAxisIndex: 8, yAxisIndex: 10, data: [[0, 0.5]], symbol: 'none', lineStyle: { opacity: 0 }, silent: true,
      markArea: {
        silent: true, animation: false,
        label: { show: true, position: 'inside', fontSize: 8, color: ink, fontFamily: font },
        data: bandSegments.map(s => [
          { xAxis: s[0], name: s[1] - s[0] > 4 ? s[2] : '',
            itemStyle: { color: s[2] === 'Bullish' ? bullFill : bearFill,
              borderColor: s[2] === 'Bullish' ? '#6ab06a' : '#e07070', borderWidth: 1 } },
          { xAxis: s[1] }
        ])
      }
    }
  ]
};

chart.setOption(option);
</script>
</body>
</html>
